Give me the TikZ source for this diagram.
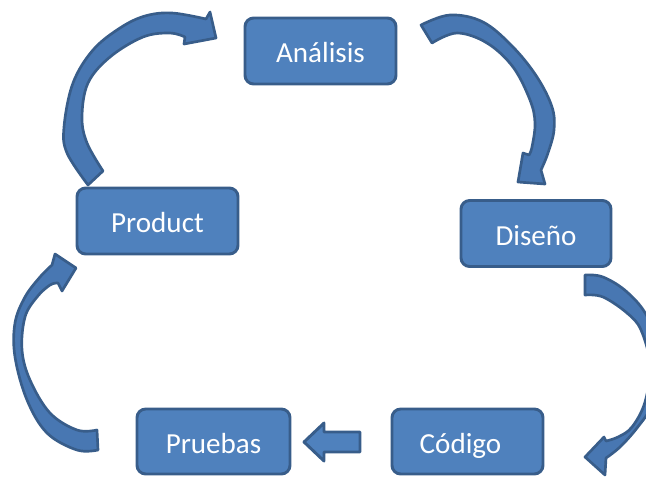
\documentclass[tikz,border=0pt]{standalone}
\usepackage{fontspec}
\setmainfont{Carlito}
\definecolor{boxfill}{HTML}{4F81BD}
\definecolor{boxline}{HTML}{385D8A}
\definecolor{arrowfill}{HTML}{4877B2}
\begin{document}
\begin{tikzpicture}[x=0.75pt,y=-0.75pt,
  stage/.style={draw=boxline, fill=boxfill, line width=2.2pt, rounded corners=6.5pt,
    inner sep=0pt, text height=17.25pt, text depth=0pt,
    font=\fontsize{21.8}{26}\selectfont, text=white},
  curvedband/.style={draw=boxline, fill=arrowfill, line width=2pt, line join=round},
  blockarrow/.style={draw=boxline, fill=boxfill, line width=2.2pt, line join=round}]
\useasboundingbox (0,0) rectangle (646,476);
\clip (0,0) rectangle (646,476);

% process stages
\node[stage, minimum width=113.25pt, minimum height=49.5pt] (ana) at (320.5,51) {Análisis};
\node[stage, minimum width=120.75pt, minimum height=49.5pt] (prod) at (157.5,221) {Product};
\node[stage, minimum width=112.5pt, minimum height=49.5pt] (dis) at (536,233.5) {Diseño};
\node[stage, minimum width=114.75pt, minimum height=48.75pt] (pru) at (213.5,441.5) {Pruebas};
\node[stage, minimum width=113.25pt, minimum height=48.75pt] (cod) at (467.5,441.5) {Código\hspace*{10.5pt}};

% curved arrow: Product -> Analisis
\path[curvedband] plot[smooth, tension=0.6] coordinates {(88,185) (67,153) (64,127) (73,83) (93,50) (120,28) (145,16) (172,13) (206,19)}
  -- (210,12) -- (216,38) -- (184,44) -- (185,37)
  -- plot[smooth, tension=0.6] coordinates {(185,37) (170,33) (143,37) (110,57) (88,83) (82,117) (87,143) (103,171)}
  -- cycle;

% curved arrow: Analisis -> Diseno
\path[curvedband] plot[smooth, tension=0.6] coordinates {(421,25) (450,15) (483,22) (513,47) (537,77) (552,107) (554,130) (548,153) (541,170)}
  -- (545,184) -- (518,182) -- (523,153) -- (529,155)
  -- plot[smooth, tension=0.6] coordinates {(529,155) (532,147) (535,123) (530,100) (513,67) (487,43) (457,33) (432,43)}
  -- cycle;

% curved arrow: Diseno -> Codigo
\path[curvedband] plot[smooth, tension=0.6] coordinates {(585,275) (603,277) (627,292) (648,318) (664,365) (652,405) (637,428) (620,447) (606,458)}
  -- (605,475) -- (585,457) -- (604,437) -- (606,441)
  -- plot[smooth, tension=0.6] coordinates {(606,441) (618,437) (632,427) (645,402) (650,365) (641,330) (627,313) (603,297) (585,295)}
  -- cycle;

% curved arrow: Pruebas -> Product
\path[curvedband] plot[smooth, tension=0.6] coordinates {(98,450) (77,450) (47,433) (27,400) (15,357) (15,323) (25,297) (40,277) (52,265)}
  -- (55,254) -- (76,268) -- (62,291) -- (58,283)
  -- plot[smooth, tension=0.6] coordinates {(58,283) (50,285) (37,297) (25,317) (22,350) (30,380) (50,413) (77,430) (97,430)}
  -- cycle;

% block arrow: Codigo -> Pruebas
\path[blockarrow] (360,432) -- (324,432) -- (324,423) -- (304,442) -- (324,461) -- (324,452) -- (360,452) -- cycle;
\end{tikzpicture}
\end{document}
